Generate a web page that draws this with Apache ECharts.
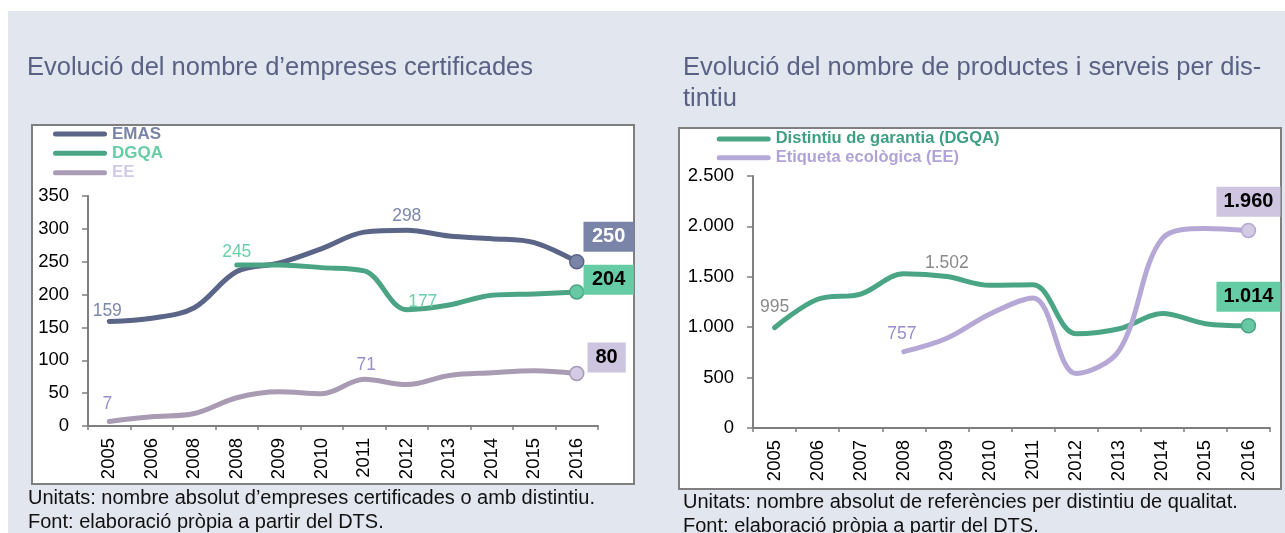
<!DOCTYPE html>
<html><head><meta charset="utf-8">
<script src="https://cdn.jsdelivr.net/npm/echarts@6/dist/echarts.min.js"></script>
<style>html,body{margin:0;padding:0;background:#fff}#c{width:1285px;height:533px}</style>
</head><body><div id="c"></div>
<script>
// ---- data ----
const leftYears = ['2005','2006','2008','2008','2009','2010','2011','2012','2013','2014','2015','2016'];
const rightYears = ['2005','2006','2007','2008','2009','2010','2011','2012','2013','2014','2015','2016'];
const emasValues = [159,164,180,235,248,270,295,298,289,285,279,250];
const dgqaCompanies = [null,null,null,245,245,241,236,177,184,199,201,204];
const eeCompanies = [7,14,19,43,52,49,71,63,77,81,84,80];
const dgqaProducts = [995,1277,1329,1530,1502,1415,1420,935,985,1135,1035,1014];
const eeProducts = [null,null,null,757,890,1131,1290,540,770,1880,1980,1960];
const leftYTicks = {min:0, max:350, step:50};
const rightYTicks = {min:0, max:2500, step:500};

const FONT = "'Liberation Sans', Arial, sans-serif";
const fmt = v => String(v).replace(/\B(?=(\d{3})+(?!\d))/g, '.');
const capsule = 'path://M2.5,0H51.5A2.5,2.5,0,0,1,51.5,5H2.5A2.5,2.5,0,0,1,2.5,0Z';

function build(values, inner, end, formatter) {
  const last = values.length - 1;
  return values.map((v, i) => {
    if (v === null) return null;
    const item = {value: v};
    if (inner[i]) {
      item.label = Object.assign({show: true, position: 'top', fontSize: 17.5, fontFamily: FONT,
        formatter: p => formatter(p.value)}, inner[i]);
    }
    if (i === last) {
      item.symbolSize = 14;
      item.itemStyle = {color: end.fill, borderColor: end.border, borderWidth: 1.5};
      item.label = Object.assign({show: true, fontSize: 20, fontWeight: 'bold', fontFamily: FONT,
        lineHeight: 30, formatter: p => formatter(p.value)}, end.label);
    }
    return item;
  });
}

function lineSeries(name, values, xi, color, inner, end, formatter) {
  return {
    name, type: 'line', xAxisIndex: xi, yAxisIndex: xi,
    data: build(values, inner, end, formatter),
    smooth: 0.35, symbol: 'circle', symbolSize: 0, showAllSymbol: true,
    lineStyle: {color, width: 5, cap: 'round', join: 'round'},
    itemStyle: {color},
    emphasis: {disabled: true}, animation: false
  };
}

const axisGray = '#7f7f7f';
function xAx(grid, data) {
  return {type: 'category', gridIndex: grid, data, boundaryGap: true,
    axisLine: {show: true, lineStyle: {color: axisGray, width: 2}},
    axisTick: {show: true, length: 4, lineStyle: {color: axisGray, width: 1.5}},
    axisLabel: {rotate: 90, margin: 12, fontSize: 18.5, color: '#000', fontFamily: FONT, interval: 0},
    splitLine: {show: false}};
}
function yAx(grid, t, formatter) {
  return {type: 'value', gridIndex: grid, min: t.min, max: t.max, interval: t.step,
    axisLine: {show: true, lineStyle: {color: axisGray, width: 2}},
    axisTick: {show: true, length: 6, lineStyle: {color: axisGray, width: 1.5}},
    axisLabel: {margin: 19, fontSize: 18.5, color: '#000', fontFamily: FONT, formatter},
    splitLine: {show: false}};
}

const chart = echarts.init(document.getElementById('c'), null, {renderer: 'canvas'});
chart.setOption({
  backgroundColor: '#ffffff',
  animation: false,
  graphic: [
    {type: 'rect', z: -10, shape: {x: 8, y: 11, width: 1277, height: 522}, style: {fill: '#e2e6ee'}},
    {type: 'rect', z: -9, shape: {x: 32, y: 125, width: 602, height: 359}, style: {fill: '#fff', stroke: '#7f7f7f', lineWidth: 2}},
    {type: 'rect', z: -9, shape: {x: 679, y: 128, width: 602, height: 361}, style: {fill: '#fff', stroke: '#7f7f7f', lineWidth: 2}}
  ],
  title: [
    {text: 'Evolució del nombre d’empreses certificades', left: 27, top: 52.5, padding: 0,
      textStyle: {fontSize: 25.5, fontWeight: 'normal', color: '#596285', fontFamily: FONT, lineHeight: 30}},
    {text: 'Evolució del nombre de productes i serveis per dis-\ntintiu', left: 683, top: 52, padding: 0,
      textStyle: {fontSize: 25.5, fontWeight: 'normal', color: '#596285', fontFamily: FONT, lineHeight: 31}},
    {text: 'Unitats: nombre absolut d’empreses certificades o amb distintiu.\nFont: elaboració pròpia a partir del DTS.',
      left: 28, top: 486, padding: 0,
      textStyle: {fontSize: 20, fontWeight: 'normal', color: '#111', fontFamily: FONT, lineHeight: 24}},
    {text: 'Unitats: nombre absolut de referències per distintiu de qualitat.\nFont: elaboració pròpia a partir del DTS.',
      left: 683, top: 490, padding: 0,
      textStyle: {fontSize: 20, fontWeight: 'normal', color: '#111', fontFamily: FONT, lineHeight: 24}}
  ],
  legend: [
    {orient: 'vertical', left: 53, top: 124.4, padding: 0, itemGap: 0, itemWidth: 54, itemHeight: 5,
      icon: capsule, selectedMode: false,
      textStyle: {fontSize: 17, fontWeight: 'bold', fontFamily: FONT, lineHeight: 19.3},
      data: [{name: 'EMAS', textStyle: {color: '#7a84a8'}},
             {name: 'DGQA', textStyle: {color: '#66cca6'}},
             {name: 'EE', textStyle: {color: '#d3cbe6'}}]},
    {orient: 'vertical', left: 716.7, top: 129.6, padding: 0, itemGap: 0, itemWidth: 54, itemHeight: 5,
      icon: capsule, selectedMode: false,
      textStyle: {fontSize: 16.5, fontWeight: 'bold', fontFamily: FONT, lineHeight: 18.7},
      data: [{name: 'Distintiu de garantia (DGQA)', textStyle: {color: '#3fa07e'}},
             {name: 'Etiqueta ecològica (EE)', textStyle: {color: '#b1a3d5'}}]}
  ],
  grid: [
    {left: 88, top: 196, width: 510, height: 230},
    {left: 753, top: 176, width: 517, height: 252}
  ],
  xAxis: [xAx(0, leftYears), xAx(1, rightYears)],
  yAxis: [yAx(0, leftYTicks), yAx(1, rightYTicks, fmt)],
  series: [
    lineSeries('EMAS', emasValues, 0, '#5a6588',
      {0: {distance: 1.5, offset: [-2, 0], color: '#7d87ad'}, 7: {distance: 5, color: '#7d87ad'}},
      {fill: '#7a84a8', border: '#5a6588', label: {position: 'right', distance: -1, offset: [0, -25],
        color: '#fff', backgroundColor: '#7a84a8', padding: [0, 8.5]}}, String),
    lineSeries('DGQA', dgqaCompanies, 0, '#4ba584',
      {3: {distance: 4, color: '#6ccfa9'}, 7: {distance: 0, offset: [16, 1], color: '#6ccfa9'}},
      {fill: '#66c9a3', border: '#4ba584', label: {position: 'right', distance: -1, offset: [0, -12.3],
        color: '#000', backgroundColor: '#66cca6', padding: [0, 8.5]}}, String),
    lineSeries('EE', eeCompanies, 0, '#a99bb4',
      {0: {distance: 8, offset: [-2, 0], color: '#9b8fca'}, 6: {distance: 5, offset: [2, 0], color: '#9b8fca'}},
      {fill: '#d3cae3', border: '#a99bb4', label: {position: 'right', distance: 3, offset: [0, -16],
        color: '#000', backgroundColor: '#cdc4e0', padding: [0, 8]}}, String),
    lineSeries('Distintiu de garantia (DGQA)', dgqaProducts, 1, '#4aa585',
      {0: {distance: 11.5, color: '#8a8a8a'}, 4: {distance: 4, color: '#8a8a8a'}},
      {fill: '#66c9a3', border: '#4aa585', label: {position: 'top', distance: 6.3,
        color: '#000', backgroundColor: '#66cca6', padding: [0, 7]}}, fmt),
    lineSeries('Etiqueta ecològica (EE)', eeProducts, 1, '#b6a8d6',
      {3: {distance: 9, offset: [-2, 0], color: '#9c8ccd'}},
      {fill: '#d3cae3', border: '#b6a8d6', label: {position: 'top', distance: 6,
        color: '#000', backgroundColor: '#cfc5e1', padding: [0, 7]}}, fmt)
  ]
});
</script></body></html>
